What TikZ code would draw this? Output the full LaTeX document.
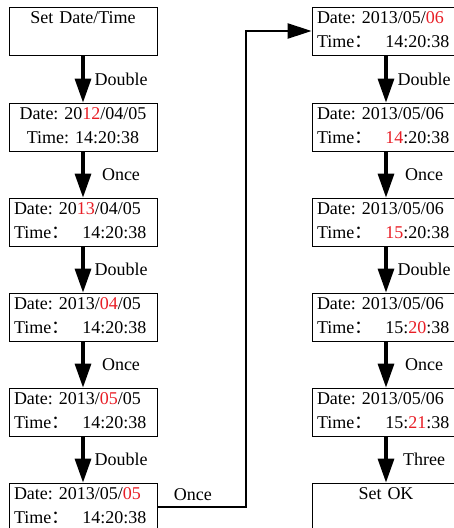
\documentclass[tikz,border=0pt]{standalone}
\usepackage{fontspec}
\setmainfont{Liberation Serif}
\newfontfamily\cjk{Noto Sans CJK SC}
\usetikzlibrary{arrows.meta,positioning}
\frenchspacing
\definecolor{hlred}{RGB}{232,30,38}
\newcommand{\hl}[1]{\textcolor{hlred}{#1}}
\newcommand{\fwc}{{\cjk ：}}
\newcommand{\tline}[1]{Time\fwc\hspace{13pt}#1}

\begin{document}
\begin{tikzpicture}[x=1pt, y=1pt,
  node_box/.style={draw, line width=0.8pt, minimum width=148pt, minimum height=48pt, text width=138pt, inner xsep=5pt, inner ysep=0pt, align=left, font=\fontsize{18}{24}\selectfont, execute at begin node=\strut, execute at end node=\strut},
  node_ttl/.style={node_box, align=center},
  arr_step/.style={-{Triangle[length=24pt,width=16pt]}, line width=3.2pt},
  arr_jump/.style={-{Triangle[length=24pt,width=15pt]}, line width=2.4pt},
  lbl/.style={xshift=38pt, font=\fontsize{18}{24}\selectfont}
]
  \clip (0,0) rectangle (454,-528);

  %% Left column
  \node[node_ttl] (l1) at (83,-31)  {Set Date/Time\\};
  \node[node_ttl] (l2) at (83,-127) {Date: 20\hl{12}/04/05\\Time: 14:20:38};
  \node[node_box] (l3) at (83,-222) {Date: 20\hl{13}/04/05\\\tline{14:20:38}};
  \node[node_box] (l4) at (83,-317) {Date: 2013/\hl{04}/05\\\tline{14:20:38}};
  \node[node_box] (l5) at (83,-412) {Date: 2013/\hl{05}/05\\\tline{14:20:38}};
  \node[node_box] (l6) at (83,-507) {Date: 2013/05/\hl{05}\\\tline{14:20:38}};

  \draw[arr_step] (l1.south) -- node[lbl] {Double} (l2.north);
  \draw[arr_step] (l2.south) -- node[lbl] {Once}   (l3.north);
  \draw[arr_step] (l3.south) -- node[lbl] {Double} (l4.north);
  \draw[arr_step] (l4.south) -- node[lbl] {Once}   (l5.north);
  \draw[arr_step] (l5.south) -- node[lbl] {Double} (l6.north);

  %% Right column
  \node[node_box] (r1) at (386,-31)  {Date: 2013/05/\hl{06}\\\tline{14:20:38}};
  \node[node_box] (r2) at (386,-127) {Date: 2013/05/06\\\tline{\hl{14}:20:38}};
  \node[node_box] (r3) at (386,-222) {Date: 2013/05/06\\\tline{\hl{15}:20:38}};
  \node[node_box] (r4) at (386,-317) {Date: 2013/05/06\\\tline{15:\hl{20}:38}};
  \node[node_box] (r5) at (386,-412) {Date: 2013/05/06\\\tline{15:\hl{21}:38}};
  \node[node_ttl] (r6) at (386,-507) {Set OK\\};

  \draw[arr_step] (r1.south) -- node[lbl] {Double} (r2.north);
  \draw[arr_step] (r2.south) -- node[lbl] {Once}   (r3.north);
  \draw[arr_step] (r3.south) -- node[lbl] {Double} (r4.north);
  \draw[arr_step] (r4.south) -- node[lbl] {Once}   (r5.north);
  \draw[arr_step] (r5.south) -- node[lbl] {Three}  (r6.north);

  %% Jump to second column
  \coordinate (turn) at (246,-507);
  \draw[arr_jump] (l6.east) -- node[pos=0.4, above=2pt, font=\fontsize{18}{24}\selectfont] {Once} (turn) |- (r1.west);
\end{tikzpicture}
\end{document}
